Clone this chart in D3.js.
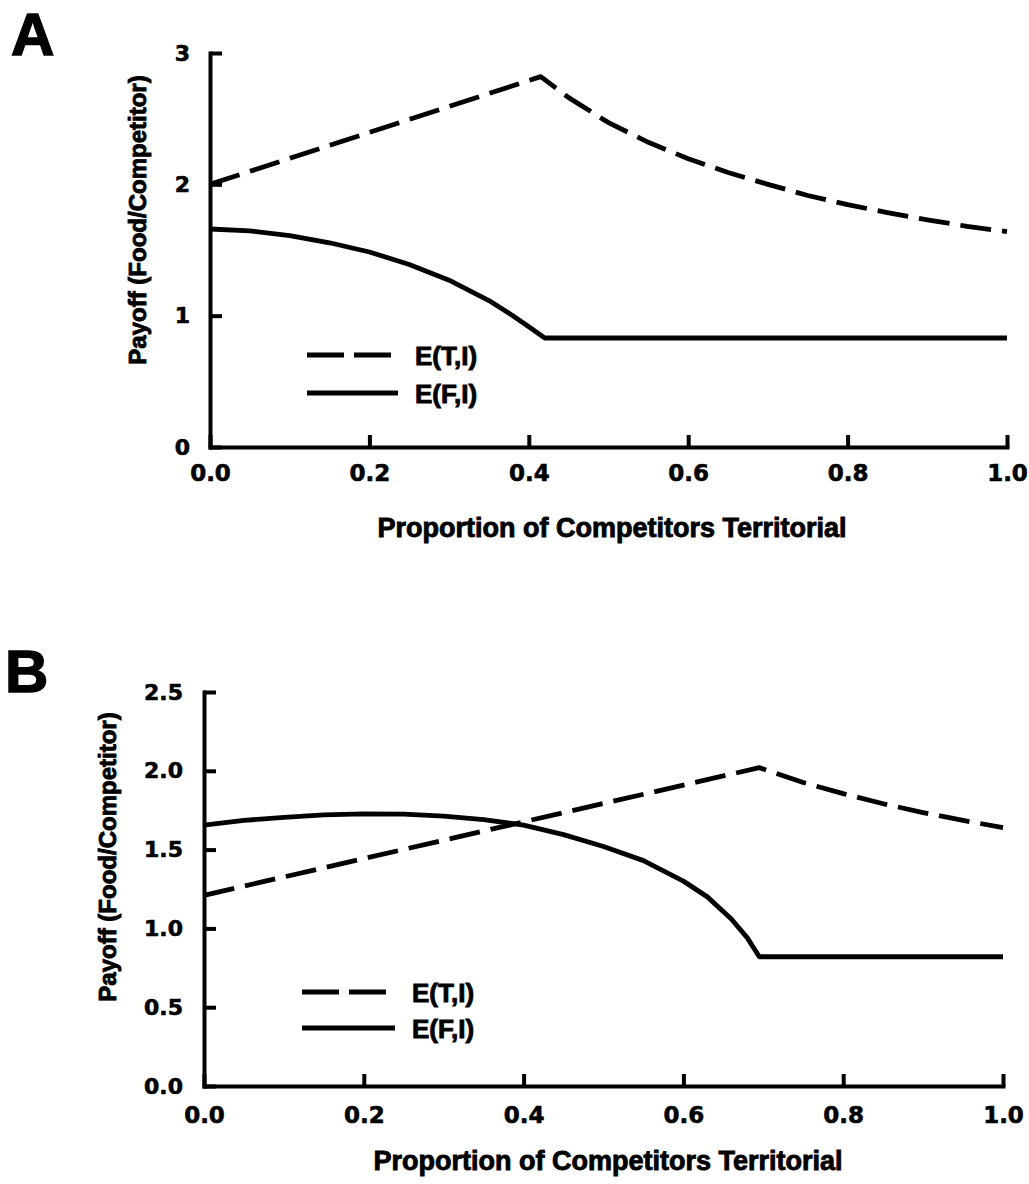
<!DOCTYPE html>
<html>
<head>
<meta charset="utf-8">
<script src="https://cdn.jsdelivr.net/npm/d3@7"></script>
<style>
  body { margin: 0; background: #fff; }
  .tick text { font-family: "DejaVu Sans", sans-serif; font-weight: bold; fill: #000; stroke: #000; stroke-width: 0.6px; }
  .title { font-family: "Liberation Sans", Arial, sans-serif; font-weight: bold; fill: #000; stroke: #000; stroke-width: 0.9px; }
</style>
</head>
<body>
<div id="chart"></div>
<script>
// shared axis ticks
var xTicks = [0, 0.2, 0.4, 0.6, 0.8, 1.0];
var xTickLabels = ["0.0", "0.2", "0.4", "0.6", "0.8", "1.0"];
var yTicksA = [0, 1, 2, 3];
var yTickLabelsA = ["0", "1", "2", "3"];
var yTicksB = [0, 0.5, 1.0, 1.5, 2.0, 2.5];
var yTickLabelsB = ["0.0", "0.5", "1.0", "1.5", "2.0", "2.5"];
var seriesNames = ["E(T,I)", "E(F,I)"];

// panel A
var propA_T = [0, 0.415, 0.45, 0.5, 0.55, 0.6, 0.65, 0.7, 0.75, 0.8, 0.85, 0.9, 0.95, 1.0];
var payA_T  = [2.0, 2.82, 2.66, 2.47, 2.32, 2.195, 2.09, 2.0, 1.915, 1.845, 1.785, 1.73, 1.68, 1.64];
var propA_F = [0, 0.05, 0.1, 0.15, 0.2, 0.25, 0.3, 0.35, 0.38, 0.4, 0.42, 1.0];
var payA_F  = [1.66, 1.645, 1.61, 1.555, 1.485, 1.39, 1.27, 1.115, 1.0, 0.915, 0.83, 0.83];

// panel B
var propB_T = [0, 0.695, 0.75, 0.8, 0.85, 0.9, 0.95, 1.0];
var payB_T  = [1.21, 2.02, 1.926, 1.855, 1.791, 1.735, 1.685, 1.64];
var propB_F = [0, 0.05, 0.1, 0.15, 0.2, 0.25, 0.3, 0.35, 0.4, 0.45, 0.5, 0.55, 0.6, 0.63, 0.66, 0.68, 0.695, 1.0];
var payB_F  = [1.655, 1.685, 1.705, 1.72, 1.727, 1.725, 1.712, 1.69, 1.655, 1.595, 1.52, 1.43, 1.30, 1.20, 1.06, 0.94, 0.82, 0.82];

var W = 1029, H = 1184;

var svg = d3.select("#chart").append("svg")
    .attr("width", W)
    .attr("height", H)
    .style("background", "#fff");

function drawPanel(p) {
  var x = d3.scaleLinear().domain([0, 1]).range(p.xRange);
  var y = d3.scaleLinear().domain(p.yDomain).range(p.yRange);
  var g = svg.append("g");

  // y axis, ticks pointing inward
  var yAxis = g.append("g")
      .attr("transform", "translate(" + p.xRange[0] + ",0)")
      .call(d3.axisLeft(y).tickValues(p.yTicks)
        .tickFormat(function(d, i) { return p.yLabels[i]; })
        .tickSize(-12).tickSizeOuter(0).tickPadding(p.yPad));
  // x axis, ticks pointing up
  var xAxis = g.append("g")
      .attr("transform", "translate(0," + p.yRange[0] + ")")
      .call(d3.axisBottom(x).tickValues(xTicks)
        .tickFormat(function(d, i) { return xTickLabels[i]; })
        .tickSize(-12).tickSizeOuter(0).tickPadding(p.xPad));

  [yAxis, xAxis].forEach(function(a) {
    a.select(".domain").attr("stroke", "#000").attr("stroke-width", 4).attr("stroke-linecap", "square");
    a.selectAll(".tick line").attr("stroke", "#000").attr("stroke-width", 4);
  });
  yAxis.selectAll(".tick text").style("font-size", "22px");
  xAxis.selectAll(".tick text").style("font-size", "23px");

  var line = d3.line()
      .x(function(d) { return x(d[0]); })
      .y(function(d) { return y(d[1]); });

  // E(T,I) dashed
  g.append("path")
      .datum(d3.zip(p.tX, p.tY))
      .attr("d", line)
      .attr("fill", "none")
      .attr("stroke", "#000")
      .attr("stroke-width", 4.8)
      .attr("stroke-linejoin", "round")
      .attr("stroke-dasharray", "31,11");

  // E(F,I) solid
  g.append("path")
      .datum(d3.zip(p.fX, p.fY))
      .attr("d", line)
      .attr("fill", "none")
      .attr("stroke", "#000")
      .attr("stroke-width", 4.8)
      .attr("stroke-linejoin", "round");

  // legend
  var lg = p.legend;
  g.append("line")
      .attr("x1", lg.x1).attr("x2", lg.x2 - 6)
      .attr("y1", lg.y1).attr("y2", lg.y1)
      .attr("stroke", "#000").attr("stroke-width", 5)
      .attr("stroke-dasharray", "37,10");
  g.append("line")
      .attr("x1", lg.x1).attr("x2", lg.x2)
      .attr("y1", lg.y2).attr("y2", lg.y2)
      .attr("stroke", "#000").attr("stroke-width", 5);
  g.selectAll("text.leg")
      .data(seriesNames)
      .enter().append("text")
      .attr("class", "leg title")
      .attr("x", lg.tx)
      .attr("y", function(d, i) { return (i === 0 ? lg.y1 : lg.y2) + 10; })
      .style("font-size", "26px")
      .text(function(d) { return d; });

  // axis titles
  g.append("text")
      .attr("class", "title")
      .attr("x", p.xTitle[0]).attr("y", p.xTitle[1])
      .attr("text-anchor", "middle")
      .style("font-size", "27px")
      .text("Proportion of Competitors Territorial");

  g.append("text")
      .attr("class", "title")
      .attr("transform", "translate(" + p.yTitle[0] + "," + p.yTitle[1] + ") rotate(-90)")
      .attr("text-anchor", "middle")
      .style("font-size", "24px")
      .text("Payoff (Food/Competitor)");

  // panel letter
  g.append("text")
      .attr("class", "title")
      .attr("x", p.letterPos[0]).attr("y", p.letterPos[1])
      .style("font-size", "60px")
      .style("stroke-width", "1.5px")
      .text(p.letter);
}

drawPanel({
  letter: "A", letterPos: [11, 55],
  xRange: [210, 1007], yRange: [447, 53], yDomain: [0, 3],
  yTicks: yTicksA, yLabels: yTickLabelsA, yPad: 20, xPad: 18,
  tX: propA_T, tY: payA_T, fX: propA_F, fY: payA_F,
  legend: {x1: 307, x2: 398, y1: 355, y2: 393, tx: 415},
  xTitle: [612, 537], yTitle: [146, 220]
});

drawPanel({
  letter: "B", letterPos: [5, 692],
  xRange: [204, 1003], yRange: [1086, 692], yDomain: [0, 2.5],
  yTicks: yTicksB, yLabels: yTickLabelsB, yPad: 21, xPad: 21,
  tX: propB_T, tY: payB_T, fX: propB_F, fY: payB_F,
  legend: {x1: 302, x2: 395, y1: 992, y2: 1028, tx: 412},
  xTitle: [608, 1170], yTitle: [116, 857]
});
</script>
</body>
</html>
